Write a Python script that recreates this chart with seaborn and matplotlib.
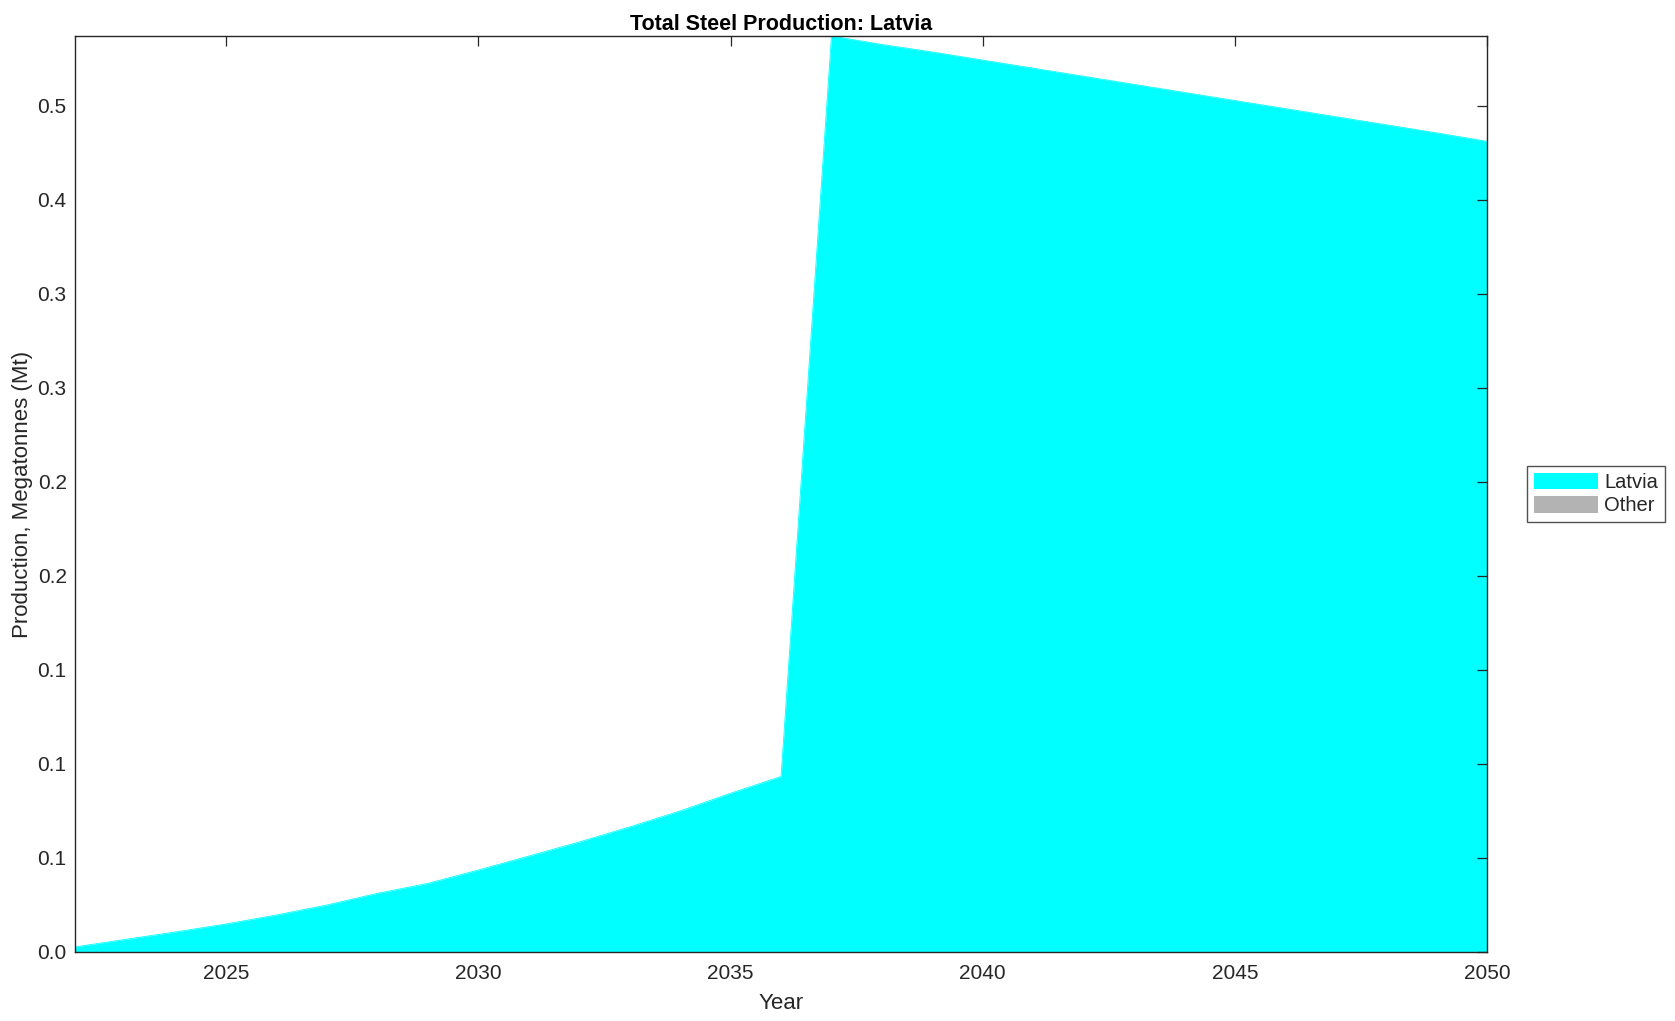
import numpy as np
import pandas as pd
import matplotlib
matplotlib.use("Agg")
import matplotlib.pyplot as plt
import seaborn as sns

# ── Data ────────────────────────────────────────────────────────────────────
years = list(range(2022, 2051))
latvia = [0.0027, 0.0067, 0.0107, 0.0149, 0.0197, 0.0250, 0.0312, 0.0365,
          0.0436, 0.0510, 0.0585, 0.0665, 0.0750, 0.0844, 0.0933,
          0.4870, 0.4825, 0.4785, 0.4742, 0.4699, 0.4656, 0.4613, 0.4570,
          0.4527, 0.4484, 0.4441, 0.4398, 0.4355, 0.4310]
other = [0.0] * len(years)

series_names = ["Latvia", "Other"]
series_colors = ["#00FFFF", "#B3B3B3"]

y_ticks = [0.0, 0.05, 0.10, 0.15, 0.20, 0.25, 0.30, 0.35, 0.40, 0.45]
y_tick_labels = ["0.0", "0.1", "0.1", "0.1", "0.2", "0.2", "0.3", "0.3", "0.4", "0.5"]
x_ticks = [2025, 2030, 2035, 2040, 2045, 2050]

df = pd.DataFrame({"Year": years, "Latvia": latvia, "Other": other})

# ── Style ───────────────────────────────────────────────────────────────────
sns.set_theme(style="white")
plt.rcParams["font.family"] = ["Liberation Sans", "DejaVu Sans"]

fig = plt.figure(figsize=(16.75, 10.21), dpi=100)
ax = fig.add_axes([0.0448, 0.0676, 0.8430, 0.8971])
ax.set_axisbelow(False)

ax.stackplot(df["Year"], df["Latvia"], df["Other"],
             colors=series_colors, labels=series_names, linewidth=0)
sns.lineplot(data=df, x="Year", y="Latvia", ax=ax, color=series_colors[0],
             linewidth=0.6, legend=False)

ax.set_xlim(2022, 2050)
ax.set_ylim(0, max(latvia))
ax.set_xticks(x_ticks)
ax.set_yticks(y_ticks)
ax.set_yticklabels(y_tick_labels)

ax.tick_params(direction="in", length=7, width=0.9, colors="#262626",
               labelsize=15, top=True, right=True)
ax.tick_params(axis="x", pad=9)
ax.tick_params(axis="y", pad=6)
for s in ax.spines.values():
    s.set_color("#262626")
    s.set_linewidth(1.0)
    s.set_zorder(3)

ax.set_xlabel("Year", fontsize=16, color="#262626", labelpad=7)
ax.set_ylabel("Production, Megatonnes (Mt)", fontsize=16, color="#262626", labelpad=3)
ax.set_title("Total Steel Production: Latvia", fontsize=15.5, fontweight="bold",
             color="black", pad=4)

leg = ax.legend(loc="center left", bbox_to_anchor=(1.028, 0.5), fontsize=14.5,
                frameon=True, fancybox=False, edgecolor="#262626",
                handlelength=3.2, handleheight=0.9, handletextpad=0.3,
                borderpad=0.35, labelspacing=0.2, borderaxespad=0)
leg.get_frame().set_linewidth(1.0)

fig.savefig("out.png", dpi=100)
